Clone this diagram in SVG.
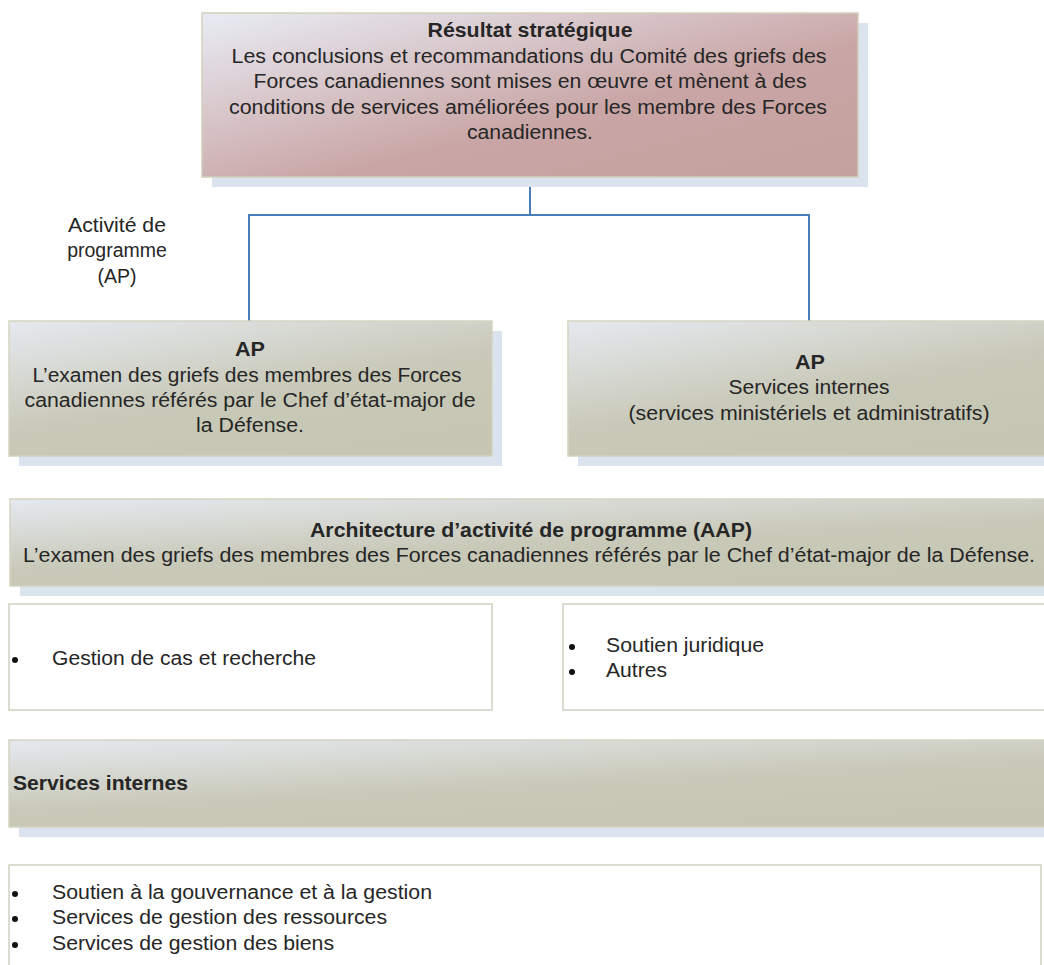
<svg xmlns="http://www.w3.org/2000/svg" width="1044" height="965" viewBox="0 0 1044 965">
<defs>
<linearGradient id="gPink" x1="0" y1="0" x2="1" y2="1">
<stop offset="0" stop-color="#e8ecf4"/>
<stop offset="0.6" stop-color="#c9a5a5"/>
<stop offset="1" stop-color="#c4a09e"/>
</linearGradient>
<linearGradient id="gKhaki" x1="0" y1="0" x2="0.6" y2="1">
<stop offset="0" stop-color="#e5e9ef"/>
<stop offset="0.6" stop-color="#c9c9b9"/>
<stop offset="1" stop-color="#c6c6b4"/>
</linearGradient>
<style>
.sh{fill:#dbe3ee}
.pink{fill:url(#gPink);stroke:#d2cfbc;stroke-width:1.5}
.kh{fill:url(#gKhaki);stroke:#d4d3c2;stroke-width:1.5}
.wb{fill:#ffffff;stroke:#d8d8ca;stroke-width:1.8}
text{font-family:"Liberation Sans",Arial,sans-serif;font-size:19.5px;fill:#262626}
.c{text-anchor:middle}
.b{font-weight:bold}
.conn{fill:none;stroke:#4a7ebb;stroke-width:2}
.dot{fill:#111}
</style>
</defs>

<g id="connectors">
<path class="conn" d="M530,177 V215 M249,215 H809 M249,214 V321 M809,214 V321"/>
</g>

<g id="label-ap">
<text class="c" x="117" y="232" textLength="98" lengthAdjust="spacingAndGlyphs">Activité de</text>
<text class="c" x="117" y="257">programme</text>
<text class="c" x="117" y="283">(AP)</text>
</g>

<g id="resultat">
<rect class="sh" x="212" y="23" width="656" height="164"/>
<rect class="pink" x="202" y="13" width="656" height="164"/>
<text class="c b" x="530" y="37" textLength="205" lengthAdjust="spacingAndGlyphs">Résultat stratégique</text>
<text class="c" x="529" y="62.5" textLength="595" lengthAdjust="spacingAndGlyphs">Les conclusions et recommandations du Comité des griefs des</text>
<text class="c" x="530" y="88" textLength="553" lengthAdjust="spacingAndGlyphs">Forces canadiennes sont mises en œuvre et mènent à des</text>
<text class="c" x="528" y="113.5" textLength="598" lengthAdjust="spacingAndGlyphs">conditions de services améliorées pour les membre des Forces</text>
<text class="c" x="530" y="139" textLength="126" lengthAdjust="spacingAndGlyphs">canadiennes.</text>
</g>

<g id="ap1">
<rect class="sh" x="19" y="331" width="483" height="135"/>
<rect class="kh" x="9" y="321" width="483" height="135"/>
<text class="c b" x="250" y="356" textLength="30" lengthAdjust="spacingAndGlyphs">AP</text>
<text class="c" x="247" y="382" textLength="429" lengthAdjust="spacingAndGlyphs">L’examen des griefs des membres des Forces</text>
<text class="c" x="250" y="407" textLength="451" lengthAdjust="spacingAndGlyphs">canadiennes référés par le Chef d’état-major de</text>
<text class="c" x="250" y="432" textLength="108" lengthAdjust="spacingAndGlyphs">la Défense.</text>
</g>

<g id="ap2">
<rect class="sh" x="578" y="331" width="480" height="135"/>
<rect class="kh" x="568" y="321" width="480" height="135"/>
<text class="c b" x="810" y="369" textLength="30" lengthAdjust="spacingAndGlyphs">AP</text>
<text class="c" x="809" y="394" textLength="161" lengthAdjust="spacingAndGlyphs">Services internes</text>
<text class="c" x="809" y="420" textLength="361" lengthAdjust="spacingAndGlyphs">(services ministériels et administratifs)</text>
</g>

<g id="aap">
<rect class="sh" x="20" y="509" width="1040" height="87"/>
<rect class="kh" x="10" y="499" width="1040" height="87"/>
<text class="c b" x="531" y="537" textLength="442" lengthAdjust="spacingAndGlyphs">Architecture d’activité de programme (AAP)</text>
<text class="c" x="529" y="562" textLength="1012" lengthAdjust="spacingAndGlyphs">L’examen des griefs des membres des Forces canadiennes référés par le Chef d’état-major de la Défense.</text>
</g>

<g id="list-left">
<rect class="wb" x="9" y="604" width="483" height="106"/>
<circle class="dot" cx="15" cy="660" r="3"/>
<text x="52" y="665" textLength="264" lengthAdjust="spacingAndGlyphs">Gestion de cas et recherche</text>
</g>

<g id="list-right">
<rect class="wb" x="563" y="604" width="490" height="106"/>
<circle class="dot" cx="572" cy="647" r="3"/>
<circle class="dot" cx="572" cy="672" r="3"/>
<text x="606" y="652" textLength="158" lengthAdjust="spacingAndGlyphs">Soutien juridique</text>
<text x="606" y="677" textLength="61" lengthAdjust="spacingAndGlyphs">Autres</text>
</g>

<g id="services">
<rect class="sh" x="19" y="750" width="1040" height="87"/>
<rect class="kh" x="9" y="740" width="1040" height="87"/>
<text class="b" x="13" y="790" textLength="175" lengthAdjust="spacingAndGlyphs">Services internes</text>
</g>

<g id="list-bottom">
<rect class="wb" x="9" y="865" width="1032" height="120"/>
<circle class="dot" cx="15" cy="894" r="3"/>
<circle class="dot" cx="15" cy="919" r="3"/>
<circle class="dot" cx="15" cy="945" r="3"/>
<text x="52" y="899" textLength="380" lengthAdjust="spacingAndGlyphs">Soutien à la gouvernance et à la gestion</text>
<text x="52" y="924" textLength="335" lengthAdjust="spacingAndGlyphs">Services de gestion des ressources</text>
<text x="52" y="950" textLength="282" lengthAdjust="spacingAndGlyphs">Services de gestion des biens</text>
</g>
</svg>
